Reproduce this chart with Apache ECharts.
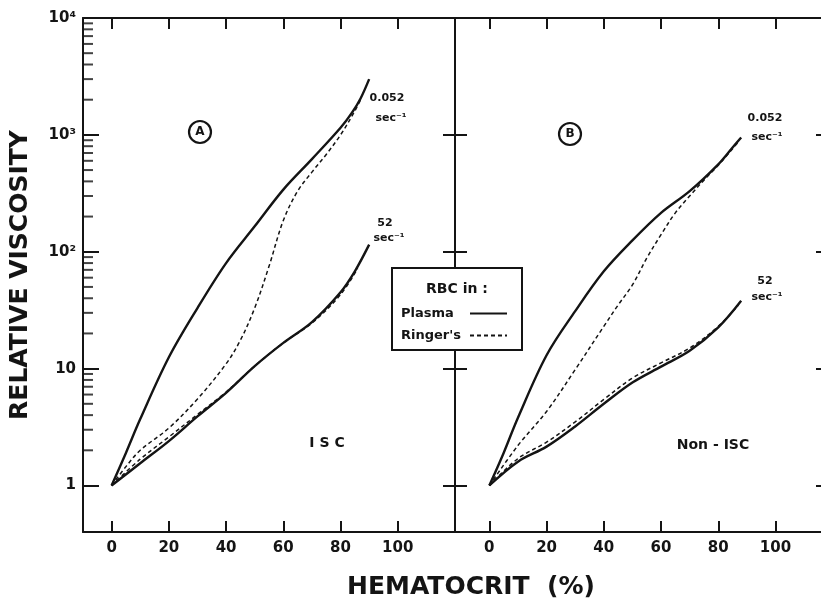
<!DOCTYPE html>
<html><head><meta charset="utf-8">
<script src="https://cdn.jsdelivr.net/npm/echarts@6/dist/echarts.min.js"></script>
<style>html,body{margin:0;padding:0;background:#fff}#c{width:821px;height:601px}</style>
</head><body><div id="c"></div>
<script>
// ---- axis ticks / labels ----
const xTicks = [0, 20, 40, 60, 80, 100];
const yMajor = [1, 10, 100, 1000, 10000];
const yMajorLabels = ['1', '10', '10²', '10³', '10⁴'];
const yMinor = [2,3,4,5,6,7,8,9,20,30,40,50,60,70,80,90,200,300,400,500,600,700,800,900,2000,3000,4000,5000,6000,7000,8000,9000];
const xMinA = -10, xMaxA = 120, xMinB = -12, xMaxB = 115.9;
const yMin = 0.4, yMax = 10000;

// ---- Panel A (ISC) ----
const hctA_slow_plasma = [0,5,10,20,30,40,50,60,70,80,84,87,90];
const visA_slow_plasma = [1,1.9,3.7,12.5,33,80,165,340,620,1150,1550,2050,3000];
const hctA_slow_ringer = [0,5,10,20,30,40,45,50,55,60,65,70,75,80,85,87];
const visA_slow_ringer = [1,1.45,2.0,3.1,5.5,11,17.5,33,75,185,330,480,680,1000,1600,2000];
const hctA_fast_plasma = [0,10,20,30,40,50,60,70,80,85,90];
const visA_fast_plasma = [1,1.55,2.4,3.9,6.2,10.5,16.6,25,45,68,115];
const hctA_fast_ringer = [0,10,20,30,40,50,60,70,80,86];
const visA_fast_ringer = [1,1.68,2.6,4.05,6.3,10.5,16.6,24.5,43,72];
// ---- Panel B (Non-ISC) ----
const hctB_slow_plasma = [0,5,10,20,30,40,50,60,70,80,85,88];
const visB_slow_plasma = [1,1.9,3.8,13,31,68,125,215,330,560,780,950];
const hctB_slow_ringer = [0,10,20,30,40,45,50,55,60,65,70,75,80,85,87];
const visB_slow_ringer = [1,2.2,4.3,9.8,23,35,52,88,140,215,300,410,550,760,870];
const hctB_fast_plasma = [0,10,20,30,40,50,60,70,80,88];
const visB_fast_plasma = [1,1.6,2.15,3.2,5.0,7.6,10.4,14.2,22.5,38];
const hctB_fast_ringer = [0,10,20,30,40,50,60,70,80,87];
const visB_fast_ringer = [1,1.7,2.35,3.5,5.45,8.3,11.2,15.0,23,35];

const INK = '#141414';
const FONT = 'DejaVu Sans';
const zip = (a, b) => a.map((v, i) => [v, b[i]]);

function line(name, hct, vis, gi, dashed) {
  return {
    type: 'line', name: name, xAxisIndex: gi * 2, yAxisIndex: gi * 2,
    data: zip(hct, vis), symbol: 'none', smooth: 0.35, silent: true, z: 3,
    itemStyle: { color: 'rgba(0,0,0,0)' },
    lineStyle: dashed ? { color: INK, width: 1.5, type: [4, 3] } : { color: INK, width: 2.4 }
  };
}

function xAx(gi, pos, min, max, labels) {
  return {
    type: 'value', gridIndex: gi, position: pos, min: min, max: max,
    axisLine: { show: true, onZero: false, lineStyle: { color: INK, width: 2 } },
    axisTick: { show: true, inside: true, length: 11, customValues: xTicks, lineStyle: { color: INK, width: 2 } },
    axisLabel: { show: labels, customValues: xTicks, margin: 9, color: INK, fontFamily: FONT, fontWeight: 'bold', fontSize: 15 },
    splitLine: { show: false }
  };
}
function yAx(gi, pos, len, labels, lineShow, extra) {
  return Object.assign({
    type: 'log', gridIndex: gi, position: pos, min: yMin, max: yMax, logBase: 10,
    axisLine: { show: lineShow, onZero: false, lineStyle: { color: INK, width: 2 } },
    axisTick: { show: true, inside: true, length: len, lineStyle: { color: INK, width: 2 } },
    axisLabel: {
      show: labels, margin: 7, color: INK, fontFamily: FONT, fontWeight: 'bold', fontSize: 15,
      showMinLabel: false,
      formatter: v => { const i = yMajor.indexOf(Math.round(v)); return i >= 0 ? yMajorLabels[i] : ''; }
    },
    splitLine: { show: false }
  }, extra || {});
}

const chart = echarts.init(document.getElementById('c'), null, { renderer: 'canvas' });
const txt = (t, x, y, size, align, weight) => ({
  type: 'text', z: 60, style: { text: t, x: x, y: y, fill: INK, font: (weight || 'bold') + ' ' + size + 'px "' + FONT + '"', textAlign: align || 'center', textVerticalAlign: 'middle' }
});

chart.setOption({
  animation: false,
  backgroundColor: '#fff',
  grid: [
    { left: 83, top: 18, right: 366, bottom: 69 },
    { left: 455, top: 18, right: 0, bottom: 69 }
  ],
  xAxis: [
    xAx(0, 'bottom', xMinA, xMaxA, true), xAx(0, 'top', xMinA, xMaxA, false),
    xAx(1, 'bottom', xMinB, xMaxB, true), xAx(1, 'top', xMinB, xMaxB, false)
  ],
  yAxis: [
    yAx(0, 'left', 16, true, true, { name: 'RELATIVE VISCOSITY', nameLocation: 'middle', nameGap: 50,
      nameTextStyle: { color: INK, fontFamily: FONT, fontSize: 25, fontWeight: 'bold' } }),
    yAx(0, 'right', 12, false, true),
    yAx(1, 'left', 12, false, true),
    yAx(1, 'right', 5, false, false)
  ],
  legend: {
    data: ['Plasma', "Ringer's"], orient: 'vertical', left: 396, top: 302, align: 'right',
    itemWidth: 37, itemHeight: 12, itemGap: 9, selectedMode: false, z: 70,
    itemStyle: { opacity: 0 },
    formatter: name => '{t|' + name + '}',
    textStyle: { color: INK, fontFamily: FONT, fontWeight: 'bold', fontSize: 13,
      rich: { t: { width: 64, align: 'left', color: INK, fontFamily: FONT, fontWeight: 'bold', fontSize: 13 } } }
  },
  graphic: [
    { type: 'rect', z: 50, shape: { x: 392, y: 268, width: 130, height: 82 }, style: { fill: '#fff', stroke: INK, lineWidth: 2 } },
    txt('RBC in :', 457, 289, 14),
    { type: 'circle', z: 60, shape: { cx: 200, cy: 132, r: 11 }, style: { fill: '#fff', stroke: INK, lineWidth: 2.2 } },
    txt('A', 200, 132, 12),
    { type: 'circle', z: 60, shape: { cx: 570, cy: 134, r: 11 }, style: { fill: '#fff', stroke: INK, lineWidth: 2.2 } },
    txt('B', 570, 134, 12),
    txt('0.052', 387, 98, 11), txt('sec⁻¹', 391, 118, 11),
    txt('52', 385, 223, 11), txt('sec⁻¹', 389, 238, 11),
    txt('0.052', 765, 118, 11), txt('sec⁻¹', 767, 137, 11),
    txt('52', 765, 281, 11), txt('sec⁻¹', 767, 297, 11),
    txt('I S C', 327, 443, 14),
    txt('Non - ISC', 713, 445, 14),
    txt('HEMATOCRIT  (%)', 471, 587, 25)
  ],
  series: [
    line('Plasma', hctA_slow_plasma, visA_slow_plasma, 0, false),
    line("Ringer's", hctA_slow_ringer, visA_slow_ringer, 0, true),
    line('Plasma', hctA_fast_plasma, visA_fast_plasma, 0, false),
    line("Ringer's", hctA_fast_ringer, visA_fast_ringer, 0, true),
    line('Plasma', hctB_slow_plasma, visB_slow_plasma, 1, false),
    line("Ringer's", hctB_slow_ringer, visB_slow_ringer, 1, true),
    line('Plasma', hctB_fast_plasma, visB_fast_plasma, 1, false),
    line("Ringer's", hctB_fast_ringer, visB_fast_ringer, 1, true),
    {
      type: 'scatter', name: 'minor ticks', xAxisIndex: 0, yAxisIndex: 0, silent: true, z: 4,
      data: yMinor.map(v => [xMinA, v]), symbol: 'rect', symbolSize: [10, 2], symbolOffset: [5, 0],
      itemStyle: { color: INK }
    }
  ]
});
</script></body></html>
